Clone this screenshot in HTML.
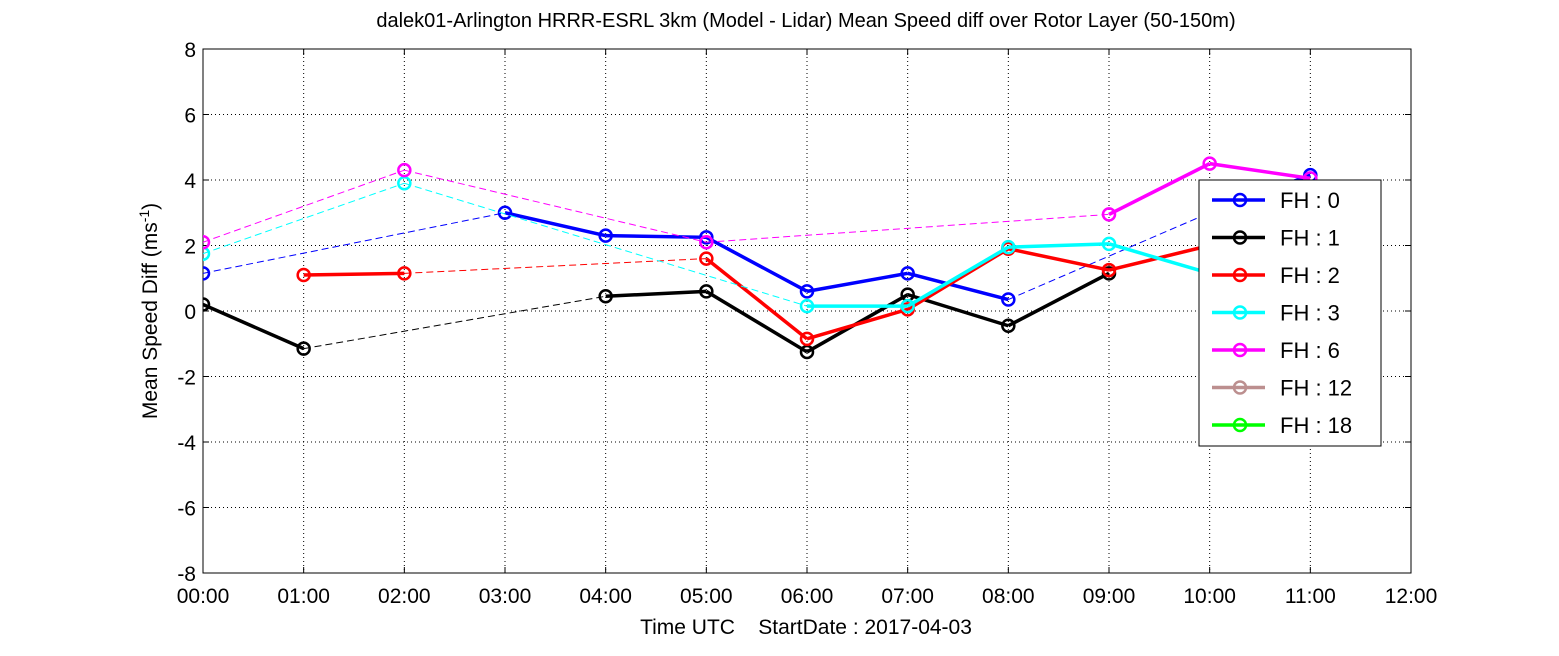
<!DOCTYPE html>
<html><head><meta charset="utf-8"><style>
body{margin:0;background:#fff;}
svg{display:block;font-family:"Liberation Sans",sans-serif;}
</style></head><body>
<svg id="chart" width="1559" height="656" viewBox="0 0 1559 656"></svg>
<script>
const hours=["00:00","01:00","02:00","03:00","04:00","05:00","06:00","07:00","08:00","09:00","10:00","11:00","12:00"];
const yTicks=[-8,-6,-4,-2,0,2,4,6,8];
const seriesNames=["FH : 0","FH : 1","FH : 2","FH : 3","FH : 6","FH : 12","FH : 18"];
const seriesColors=["#0000ff","#000000","#ff0000","#00ffff","#ff00ff","#bc8f8f","#00ff00"];
const fh0=[1.15,null,null,3.0,2.3,2.25,0.6,1.15,0.35,null,3.0,4.15];
const fh1=[0.2,-1.15,null,null,0.45,0.6,-1.25,0.5,-0.45,1.15,null,null];
const fh2=[null,1.1,1.15,null,null,1.6,-0.85,0.05,1.9,1.25,2.0,null];
const fh3=[1.75,null,3.9,null,null,null,0.15,0.15,1.95,2.05,1.15,null];
const fh6=[2.1,null,4.3,null,null,2.1,null,null,null,2.95,4.5,4.05];
const allSeries=[fh0,fh1,fh2,fh3,fh6];

const svg=document.getElementById('chart');
const NS="http://www.w3.org/2000/svg";
const X0=203,X1=1411,Y0=49,Y1=573;
const xs=i=>X0+(X1-X0)*i/12;
const ys=v=>Y1-(v+8)/16*(Y1-Y0);
function mk(tag,attrs,parent){const e=document.createElementNS(NS,tag);for(const k in attrs)e.setAttribute(k,attrs[k]);(parent||svg).appendChild(e);return e;}

let t=mk('text',{x:806,y:27,'text-anchor':'middle','font-size':20});
t.textContent="dalek01-Arlington HRRR-ESRL 3km (Model - Lidar) Mean Speed diff over Rotor Layer (50-150m)";



const grid=mk('g',{stroke:'#000','stroke-width':1,'stroke-dasharray':'1,3'});


for(let i=1;i<12;i++) mk('line',{x1:xs(i),x2:xs(i),y1:Y0,y2:Y1},grid);
yTicks.slice(1,-1).forEach(v=>mk('line',{x1:X0,x2:X1,y1:ys(v),y2:ys(v)},grid));

const box=mk('rect',{x:X0,y:Y0,width:X1-X0,height:Y1-Y0,fill:'none',stroke:'#000','stroke-width':1});



const xAxis=mk('g',{});


hours.forEach((h,i)=>{
  mk('line',{x1:xs(i),x2:xs(i),y1:Y1,y2:Y1-6,stroke:'#000'},xAxis);
  mk('line',{x1:xs(i),x2:xs(i),y1:Y0,y2:Y0+6,stroke:'#000'},xAxis);
  const l=mk('text',{x:xs(i),y:Y1+30,'text-anchor':'middle','font-size':21},xAxis);
  l.textContent=h;
  
  
});
const yAxis=mk('g',{});


yTicks.forEach(v=>{
  mk('line',{x1:X0,x2:X0+6,y1:ys(v),y2:ys(v),stroke:'#000'},yAxis);
  mk('line',{x1:X1,x2:X1-6,y1:ys(v),y2:ys(v),stroke:'#000'},yAxis);
  const l=mk('text',{x:X0-7,y:ys(v)+8,'text-anchor':'end','font-size':21},yAxis);
  l.textContent=v;
  
  
});
let xl=mk('text',{x:806,y:634,'text-anchor':'middle','font-size':21,style:'white-space:pre'});
xl.textContent="Time UTC    StartDate : 2017-04-03";


let yl=mk('text',{x:0,y:0,'text-anchor':'middle','font-size':21,transform:'translate(157,311) rotate(-90)'});
yl.innerHTML='Mean Speed Diff (ms<tspan dy="-8" font-size="14">-1</tspan><tspan dy="8">)</tspan>';



const clip=mk('clipPath',{id:'pc'});mk('rect',{x:X0,y:Y0,width:X1-X0,height:Y1-Y0},clip);
allSeries.forEach((d,si)=>{
  const c=seriesColors[si];
  const g=mk('g',{'clip-path':'url(#pc)'});
  
  
  const idx=d.map((v,i)=>v==null?-1:i).filter(i=>i>=0);
  for(let k=0;k<idx.length-1;k++){
    const a=idx[k],b=idx[k+1],solid=(b-a===1);
    mk('line',{x1:xs(a),y1:ys(d[a]),x2:xs(b),y2:ys(d[b]),stroke:c,'stroke-width':solid?3.5:1,'stroke-dasharray':solid?'none':'7,4'},g);
  }
  idx.forEach(i=>{
    const p=mk('circle',{cx:xs(i),cy:ys(d[i]),r:6,fill:'none',stroke:c,'stroke-width':2.5},g);
    
    
  });
});

const lg=mk('g',{});


mk('rect',{x:1199,y:180,width:182,height:266,fill:'#fff',stroke:'#000','stroke-width':1},lg);
seriesNames.forEach((n,i)=>{
  const y=200+i*37.5;
  const e=mk('g',{},lg);
  
  
  mk('line',{x1:1212,x2:1265,y1:y,y2:y,stroke:seriesColors[i],'stroke-width':3.5},e);
  mk('circle',{cx:1240,cy:y,r:6,fill:'none',stroke:seriesColors[i],'stroke-width':2.5},e);
  const tx=mk('text',{x:1280,y:y+8,'font-size':22},e);
  tx.textContent=n;
});
</script>
</body></html>
